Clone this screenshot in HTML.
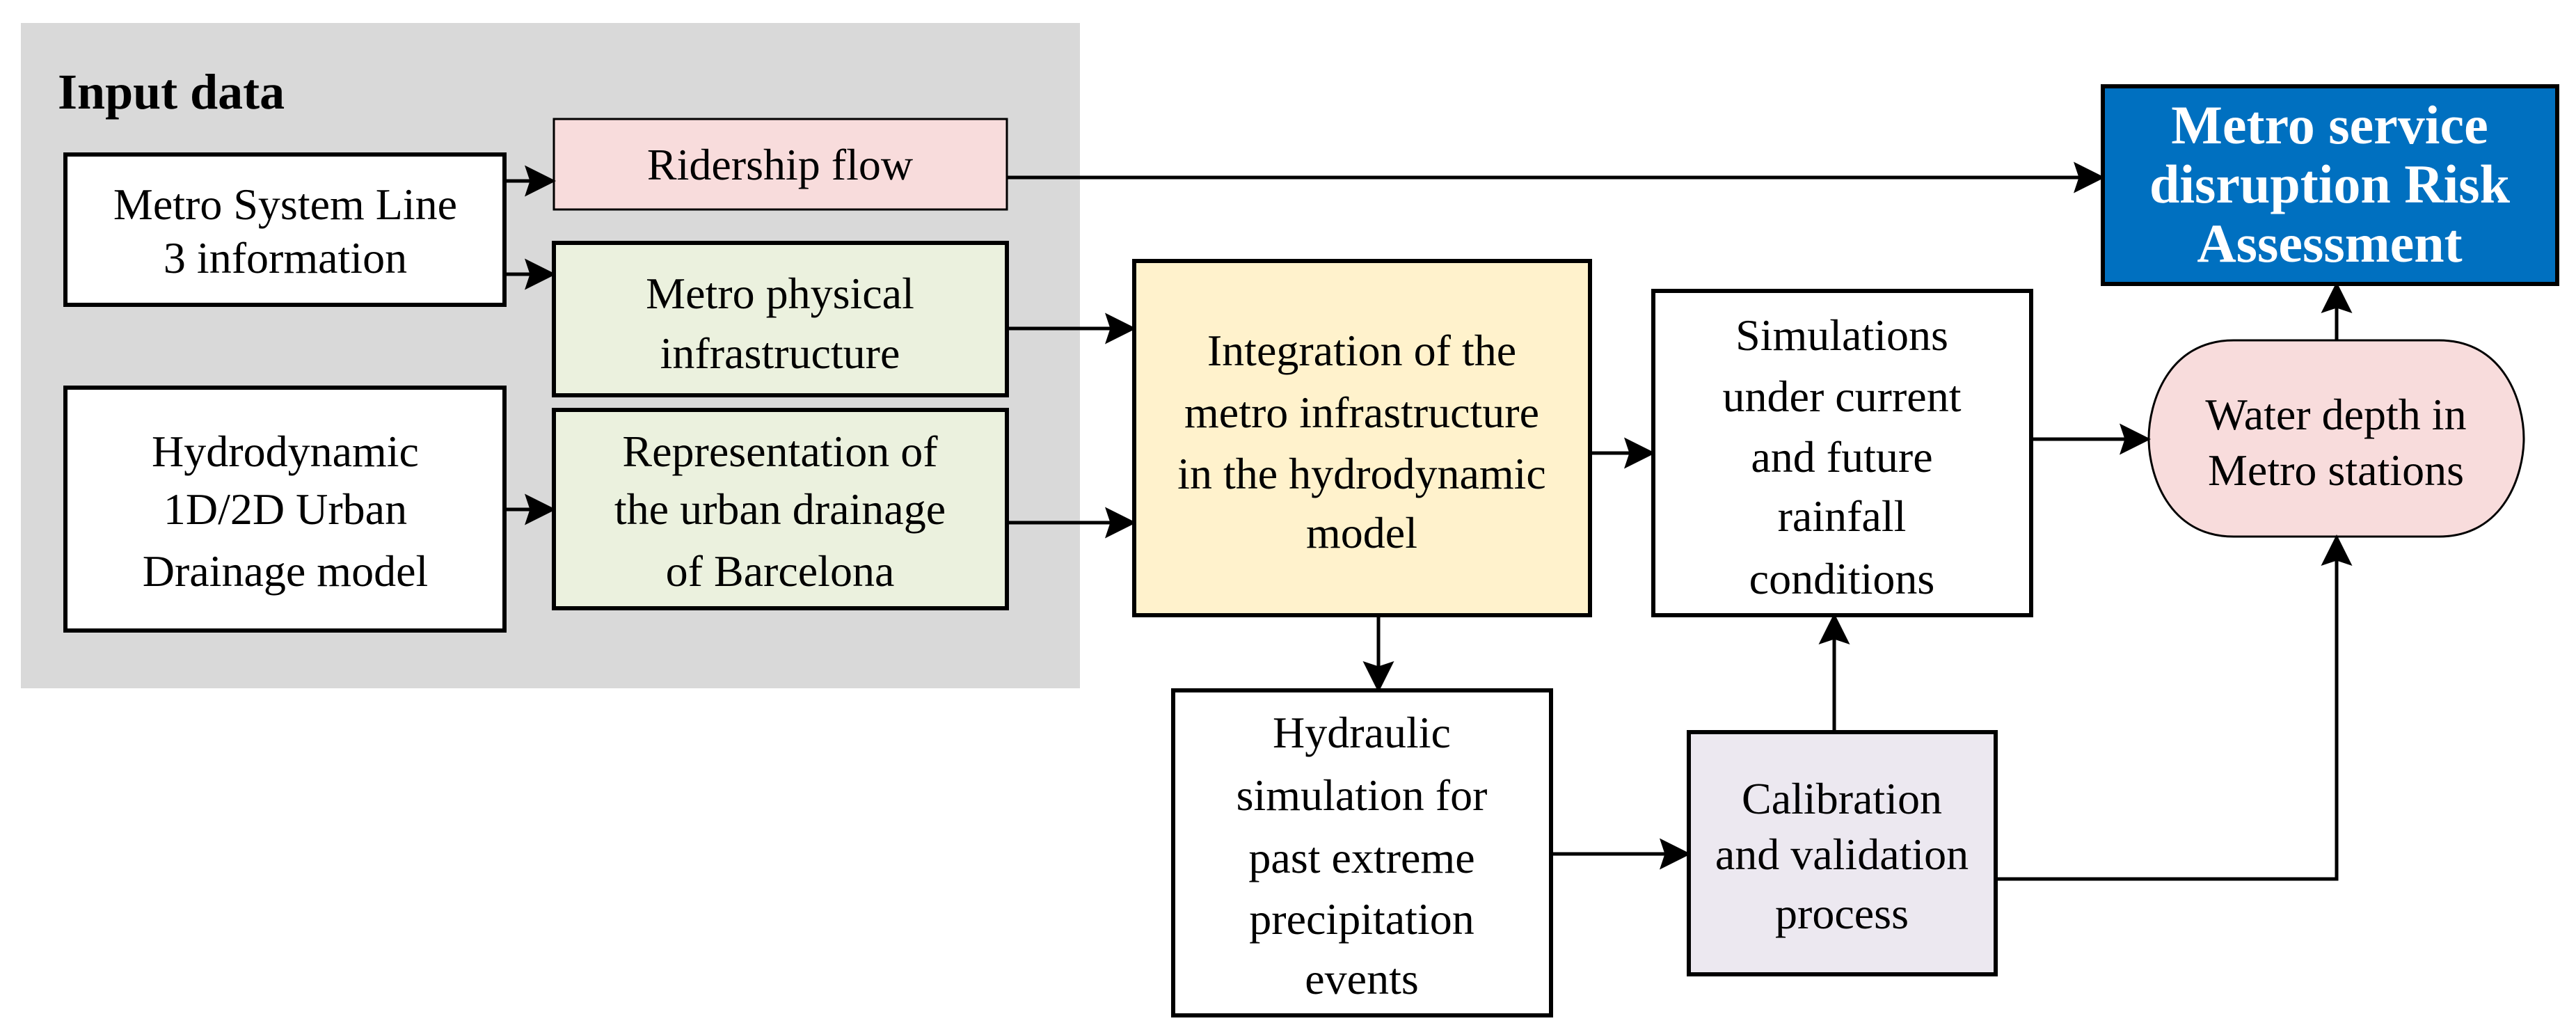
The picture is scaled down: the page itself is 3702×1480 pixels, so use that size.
<!DOCTYPE html>
<html><head><meta charset="utf-8"><style>
html,body{margin:0;padding:0;background:#fff;}
svg{display:block;}
</style></head><body>
<svg width="3702" height="1480" viewBox="0 0 3702 1480" xmlns="http://www.w3.org/2000/svg" font-family="'Liberation Serif', 'DejaVu Serif', serif" font-size="64" text-anchor="middle">
<defs>
<marker id="a" markerWidth="9" markerHeight="9" refX="8" refY="4.5" orient="auto" markerUnits="strokeWidth">
<path d="M0,0 L9,4.5 L0,9 L1.5,4.5 z" fill="#000"/></marker>
</defs>
<rect x="30" y="33" width="1522" height="956" fill="#d9d9d9"/>
<text x="83" y="156" font-size="72" font-weight="bold" text-anchor="start">Input data</text>

<g stroke="#000" stroke-width="6">
<rect x="94" y="222" width="631" height="216" fill="#fff"/>
<rect x="796" y="171" width="651" height="130" fill="#f8dcdc" stroke-width="3"/>
<rect x="796" y="349" width="651" height="219" fill="#ebf1de"/>
<rect x="94" y="557" width="631" height="349" fill="#fff"/>
<rect x="796" y="589" width="651" height="285" fill="#ebf1de"/>
<rect x="1630" y="375" width="655" height="509" fill="#fff2cc"/>
<rect x="2376" y="418" width="543" height="466" fill="#fff"/>
<rect x="3022" y="124" width="653" height="284" fill="#0070c0"/>
<rect x="1686" y="992" width="543" height="467" fill="#fff"/>
<rect x="2427" y="1052" width="441" height="348" fill="#ece8f0"/>
<path d="M3210,489 L3505,489 C3600,489 3627,580 3627,630 C3627,680 3600,771 3505,771 L3210,771 C3115,771 3088,680 3088,630 C3088,580 3115,489 3210,489 Z" fill="#f8dcdc" stroke-width="3"/>
</g>

<g stroke="#000" stroke-width="5" fill="none" marker-end="url(#a)">
<line x1="725" y1="260" x2="794" y2="260"/>
<line x1="725" y1="394" x2="794" y2="394"/>
<line x1="725" y1="732" x2="794" y2="732"/>
<line x1="1447" y1="472" x2="1628" y2="472"/>
<line x1="1447" y1="751" x2="1628" y2="751"/>
<line x1="1447" y1="255" x2="3020" y2="255"/>
<line x1="2285" y1="651" x2="2374" y2="651"/>
<line x1="2919" y1="631" x2="3086" y2="631"/>
<line x1="3358" y1="489" x2="3358" y2="410"/>
<line x1="1981" y1="884" x2="1981" y2="990"/>
<line x1="2229" y1="1227" x2="2425" y2="1227"/>
<line x1="2636" y1="1052" x2="2636" y2="886"/>
<polyline points="2868,1263 3358,1263 3358,773"/>
</g>

<text x="1121" y="258">Ridership flow</text>
<text x="410" y="315">Metro System Line</text>
<text x="410" y="392">3 information</text>
<text x="1121" y="443">Metro physical</text>
<text x="1121" y="529">infrastructure</text>
<text x="410" y="670">Hydrodynamic</text>
<text x="410" y="753">1D/2D Urban</text>
<text x="410" y="842">Drainage model</text>
<text x="1121" y="670">Representation of</text>
<text x="1121" y="753">the urban drainage</text>
<text x="1121" y="842">of Barcelona</text>
<text x="1957" y="525">Integration of the</text>
<text x="1957" y="614">metro infrastructure</text>
<text x="1957" y="702">in the hydrodynamic</text>
<text x="1957" y="787">model</text>
<text x="2647" y="503">Simulations</text>
<text x="2647" y="591">under current</text>
<text x="2647" y="678">and future</text>
<text x="2647" y="763">rainfall</text>
<text x="2647" y="853">conditions</text>
<text x="3357" y="617">Water depth in</text>
<text x="3357" y="697">Metro stations</text>
<text x="3348" y="206" font-size="78" font-weight="bold" fill="#fff">Metro service</text>
<text x="3348" y="291" font-size="78" font-weight="bold" fill="#fff">disruption Risk</text>
<text x="3348" y="376" font-size="78" font-weight="bold" fill="#fff">Assessment</text>
<text x="1957" y="1074">Hydraulic</text>
<text x="1957" y="1164">simulation for</text>
<text x="1957" y="1254">past extreme</text>
<text x="1957" y="1342">precipitation</text>
<text x="1957" y="1428">events</text>
<text x="2647" y="1169">Calibration</text>
<text x="2647" y="1249">and validation</text>
<text x="2647" y="1334">process</text>
</svg>
</body></html>
